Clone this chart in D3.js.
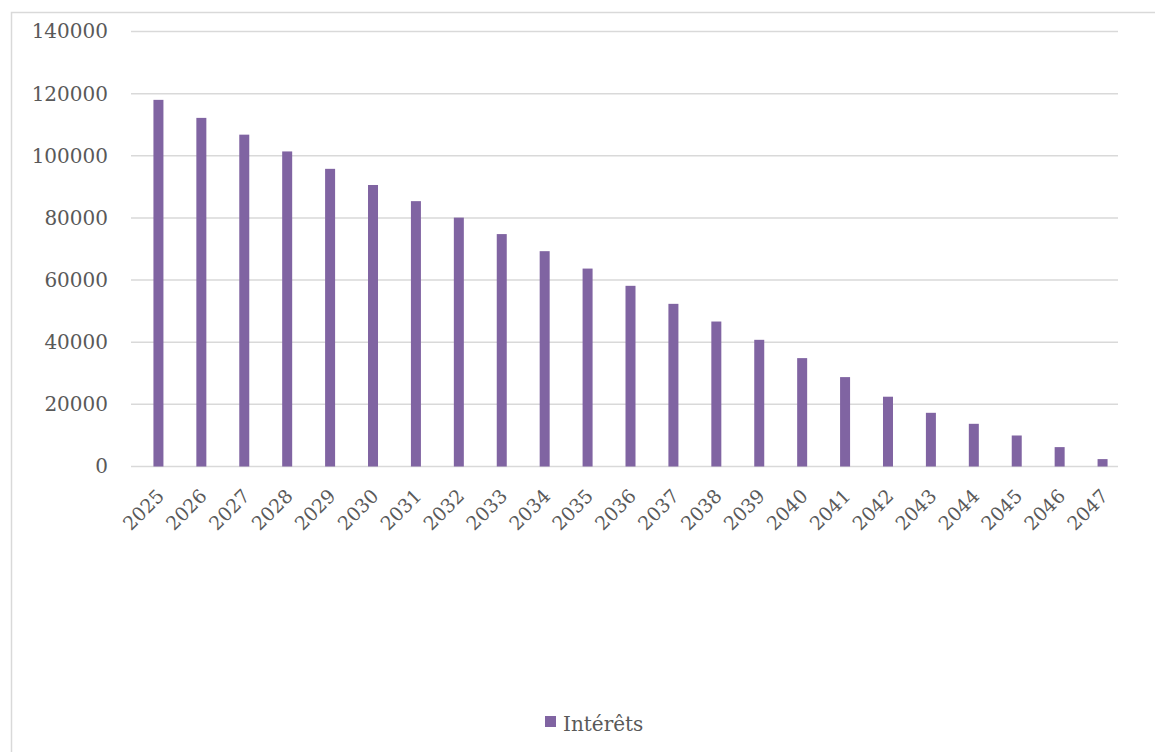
<!DOCTYPE html>
<html>
<head>
<meta charset="utf-8">
<script src="https://cdn.jsdelivr.net/npm/d3@7"></script>
<style>
  html, body { margin: 0; padding: 0; background: #fff; }
  svg { display: block; }
  text { font-family: "DejaVu Serif", "Liberation Serif", serif; fill: #595959; }
</style>
</head>
<body>
<svg id="chart" width="1155" height="752"></svg>
<script>
const years = ["2025","2026","2027","2028","2029","2030","2031","2032","2033","2034","2035","2036","2037","2038","2039","2040","2041","2042","2043","2044","2045","2046","2047"];
const interets = [118000,112200,106800,101400,95800,90600,85400,80100,74800,69300,63700,58150,52350,46660,40770,34880,28770,22460,17280,13740,9980,6240,2380];
const yTicks = [0,20000,40000,60000,80000,100000,120000,140000];
const seriesName = "Intérêts";

const svg = d3.select("#chart");
const W = 1155, H = 752;
const plot = {left: 131, right: 1118, top: 31.5, bottom: 466.5};
const barShift = 6;

// outer border
svg.append("rect").attr("x", 11.5).attr("y", 12.5).attr("width", W).attr("height", H)
  .attr("fill", "none").attr("stroke", "#d9d9d9").attr("stroke-width", 1.5);

const x = d3.scaleBand().domain(years).range([plot.left + barShift, plot.right + barShift]).paddingInner(0.767).paddingOuter(0.383);
const y = d3.scaleLinear().domain([0, 140000]).range([plot.bottom, plot.top]);

// gridlines
svg.append("g").selectAll("line").data(yTicks).join("line")
  .attr("x1", plot.left).attr("x2", plot.right)
  .attr("y1", d => y(d)).attr("y2", d => y(d))
  .attr("stroke", "#d9d9d9").attr("stroke-width", 1.5);

// y axis labels
const yAxis = d3.axisLeft(y).tickValues(yTicks).tickSize(0).tickPadding(23).tickFormat(d3.format("d"));
const gy = svg.append("g").attr("transform", `translate(${plot.left},0)`).call(yAxis);
gy.select(".domain").remove();
gy.selectAll("text").style("font-size", "20px").attr("fill", "#595959")
  .style("font-family", '"DejaVu Serif", serif');

// bars
svg.append("g").selectAll("rect").data(interets).join("rect")
  .attr("x", (d, i) => x(years[i]))
  .attr("width", x.bandwidth())
  .attr("y", d => y(d))
  .attr("height", d => y(0) - y(d))
  .attr("fill", "#8064a2");

// x axis labels
svg.append("g").selectAll("text").data(years).join("text")
  .attr("transform", d => `translate(${x(d) + x.bandwidth()/2 - 3},${plot.bottom + 21}) rotate(-45)`)
  .attr("text-anchor", "end")
  .attr("dy", "0.73em")
  .style("font-size", "19px")
  .text(d => d);

// legend
const lg = svg.append("g").attr("transform", "translate(545,716)");
lg.append("rect").attr("width", 11).attr("height", 11).attr("fill", "#8064a2");
lg.append("text").attr("x", 18).attr("y", 15).style("font-size", "20px").text(seriesName);
</script>
</body>
</html>
